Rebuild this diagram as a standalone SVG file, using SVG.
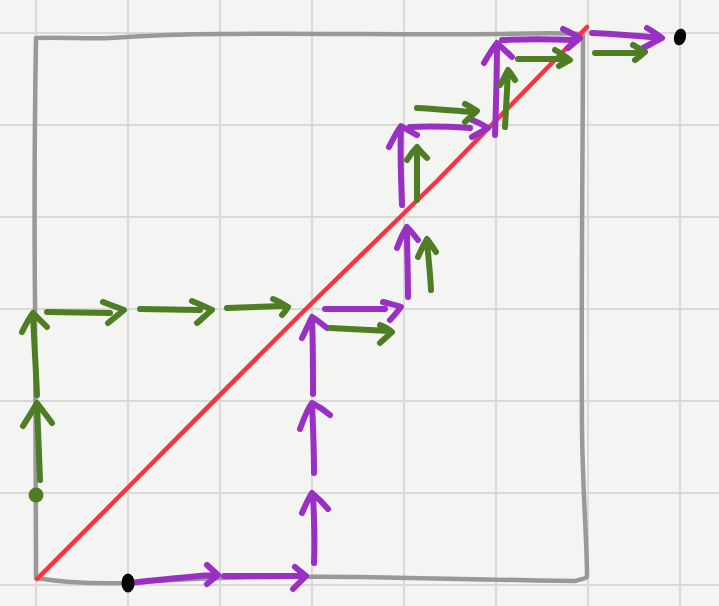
<svg xmlns="http://www.w3.org/2000/svg" width="719" height="606" viewBox="0 0 719 606">
<style>
.grid line{stroke:#dad9d7;stroke-width:2}
.s{fill:none;stroke-linecap:round;stroke-linejoin:round}
.box{stroke:#999999;stroke-width:4.5}
.red{stroke:#fb3341;stroke-width:4.5}
.p{stroke:#9a2fc4;stroke-width:6}
.g{stroke:#4e7d23;stroke-width:6}
</style>
<rect width="719" height="606" fill="#f4f4f2"/>
<g class="grid">
<line x1="36" y1="0" x2="36" y2="606"/><line x1="128" y1="0" x2="128" y2="606"/><line x1="220" y1="0" x2="220" y2="606"/><line x1="312" y1="0" x2="312" y2="606"/><line x1="404" y1="0" x2="404" y2="606"/><line x1="496" y1="0" x2="496" y2="606"/><line x1="588" y1="0" x2="588" y2="606"/><line x1="680" y1="0" x2="680" y2="606"/>
<line x1="0" y1="33" x2="719" y2="33"/><line x1="0" y1="125" x2="719" y2="125"/><line x1="0" y1="217" x2="719" y2="217"/><line x1="0" y1="309" x2="719" y2="309"/><line x1="0" y1="401" x2="719" y2="401"/><line x1="0" y1="493" x2="719" y2="493"/><line x1="0" y1="585" x2="719" y2="585"/>
</g>
<g id="box">
<path class="s box" d="M36,578 C36,480 35,380 35,300 C34,200 35,100 36,38 C60,37 90,39 110,38 C140,36 180,34 220,34 C300,33 420,35 500,34 C540,33 565,33 583,34 C583,130 581,280 582,430 C583,500 587,540 587,577 C584,580 578,579 576,581 C500,580 420,578 360,577 C300,576 200,577 130,583 C90,584 60,582 36,578"/>
</g>
<g id="diagonal">
<path class="s red" d="M37,579 C130,486 220,394 313,302 C355,261 396,221 438,180 C488,129 537,78 587,27"/>
</g>
<g id="connectors">
<path class="s p" d="M130,583 C160,580 190,576 216,575 M207,565 L218,575 L207,584"/>
<path class="s p" d="M224,576 L304,576 M295,567 L306,576 L293,589"/>
<path class="s p" d="M314,563 C315,540 314,515 313,495 M302,513 C306,504 309,497 312,493 C318,498 323,503 328,509"/>
<path class="s p" d="M314,473 C314,450 313,425 312,404 M300,429 C304,418 308,408 312,403 C318,406 324,410 330,415"/>
<path class="s p" d="M313,394 C313,370 313,340 312,318 M302,338 C306,330 309,323 312,317 C317,320 322,324 327,328"/>
<path class="s p" d="M325,309 L385,309 M383,302 C390,304 396,305 401,307 C397,312 394,316 390,320"/>
<path class="s g" d="M330,328 L389,331 M380,325 C385,327 389,329 392,332 C388,336 384,339 380,343"/>
<path class="s p" d="M408,297 C408,275 407,250 407,228 M397,248 C400,240 403,233 407,227 C411,231 414,235 418,240"/>
<path class="s g" d="M431,290 C430,270 428,255 427,240 M418,257 C421,250 424,244 427,239 C430,243 433,247 436,252"/>
<path class="s p" d="M402,205 C401,180 400,150 401,127 M389,147 C393,139 397,131 401,126 C406,129 411,132 417,135"/>
<path class="s g" d="M417,200 C417,183 417,165 417,148 M407,160 C410,155 414,150 417,147 C420,151 423,154 427,158"/>
<path class="s p" d="M410,127 C430,126 455,127 470,128 M472,120 C478,122 483,125 488,128 C483,131 477,134 472,137"/>
<path class="s g" d="M417,108 C437,109 457,111 475,112 M465,104 C469,106 473,108 477,111 C473,115 469,118 465,122"/>
<path class="s p" d="M495,135 C496,105 497,70 497,44 M484,63 C488,56 493,48 497,43 C502,48 507,52 512,57"/>
<path class="s g" d="M505,127 C506,108 507,90 508,72 M500,85 C503,80 506,74 508,70 C511,73 513,77 515,80"/>
<path class="s p" d="M502,40 C525,39 550,39 575,40 M563,29 C569,32 575,35 580,38 C576,41 572,45 568,48"/>
<path class="s g" d="M518,59 L568,59 M555,50 C560,53 565,56 570,60 C566,62 562,64 559,66"/>
<path class="s p" d="M592,33 C615,34 640,36 660,38 M647,28 C652,31 657,34 662,38 C656,41 649,45 643,48"/>
<path class="s g" d="M595,53 L643,53 M633,45 C637,47 641,50 645,52 C642,55 638,58 635,60"/>
<path class="s g" d="M40,480 C39,455 38,430 37,404 M23,426 C28,418 33,410 37,403 C42,410 47,416 52,423"/>
<path class="s g" d="M37,395 C36,370 34,340 33,314 M22,332 C25,326 29,318 33,313 C38,318 42,322 47,327"/>
<path class="s g" d="M47,312 L110,313 M103,302 C110,305 117,307 124,310 C119,314 113,319 108,323"/>
<path class="s g" d="M140,309 L200,310 M192,301 C199,304 206,307 212,310 C207,314 202,319 197,323"/>
<path class="s g" d="M227,308 L282,306 M273,299 C278,301 283,304 288,307 C286,310 284,313 282,315"/>
</g>
<g id="dots">
<ellipse cx="128" cy="583" rx="6.5" ry="9.5" fill="#050505"/>
<ellipse cx="680" cy="37" rx="6" ry="8.5" fill="#050505" transform="rotate(15 680 37)"/>
<circle cx="36" cy="495" r="7.5" fill="#4e7d23"/>
</g>
</svg>
